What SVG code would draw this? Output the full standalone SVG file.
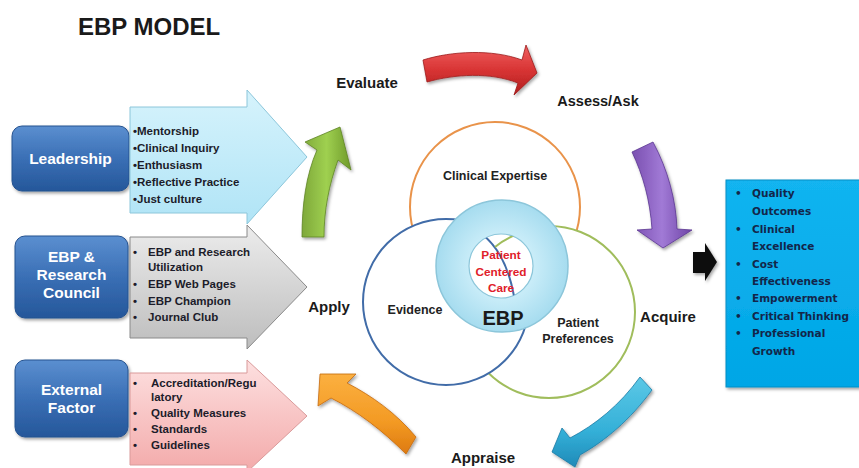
<svg xmlns="http://www.w3.org/2000/svg" width="859" height="468" viewBox="0 0 859 468">
<defs>
<style>
.lbl{font-family:"Liberation Sans",Arial,sans-serif;font-weight:bold;fill:#1a1a1a}
.box{font-family:"Liberation Sans",Arial,sans-serif;font-weight:bold;fill:#ffffff;font-size:15.5px;text-anchor:middle}
.li{font-family:"Liberation Sans",Arial,sans-serif;font-weight:bold;fill:#1c1c2a;font-size:11.5px}
.rt{font-family:"DejaVu Sans",Verdana,sans-serif;font-weight:bold;fill:#13264a;font-size:10.5px}
.ct{font-family:"Liberation Sans",Arial,sans-serif;font-weight:bold;fill:#222;font-size:12.5px;text-anchor:middle}
.red{font-family:"Liberation Sans",Arial,sans-serif;font-weight:bold;fill:#e0202a;font-size:11.8px;text-anchor:middle}
.sh{filter:url(#shadow)}
</style>
<filter id="shadow" x="-20%" y="-20%" width="140%" height="140%">
<feDropShadow dx="1.5" dy="2" stdDeviation="1.5" flood-color="#000" flood-opacity="0.35"/>
</filter>
<linearGradient id="gBox" x1="0" y1="0" x2="0" y2="1">
<stop offset="0" stop-color="#5b8fd0"/><stop offset="0.5" stop-color="#3a6fb5"/><stop offset="1" stop-color="#25579a"/>
</linearGradient>
<linearGradient id="gLb" x1="0" y1="0" x2="0" y2="1">
<stop offset="0" stop-color="#d6f3fc"/><stop offset="1" stop-color="#b0e4f6"/>
</linearGradient>
<linearGradient id="gGr" x1="0" y1="0" x2="0" y2="1">
<stop offset="0" stop-color="#ececec"/><stop offset="1" stop-color="#bdbdbd"/>
</linearGradient>
<linearGradient id="gPk" x1="0" y1="0" x2="0" y2="1">
<stop offset="0" stop-color="#fde0e0"/><stop offset="1" stop-color="#f3aaaa"/>
</linearGradient>
<linearGradient id="gGreen" x1="0" y1="0" x2="1" y2="0">
<stop offset="0" stop-color="#7ea83a"/><stop offset="0.5" stop-color="#9fd050"/><stop offset="1" stop-color="#6f9a2a"/>
</linearGradient>
<linearGradient id="gRed" x1="0" y1="0" x2="0" y2="1">
<stop offset="0" stop-color="#f06060"/><stop offset="0.5" stop-color="#d83434"/><stop offset="1" stop-color="#b01e1e"/>
</linearGradient>
<linearGradient id="gPur" x1="0" y1="0" x2="1" y2="0">
<stop offset="0" stop-color="#7a4fb0"/><stop offset="0.5" stop-color="#a17ad6"/><stop offset="1" stop-color="#6e44a6"/>
</linearGradient>
<linearGradient id="gBlue" x1="0" y1="0" x2="0" y2="1">
<stop offset="0" stop-color="#5cc8e6"/><stop offset="0.6" stop-color="#34b0d8"/><stop offset="1" stop-color="#1f8ab8"/>
</linearGradient>
<linearGradient id="gOr" x1="0" y1="0" x2="0" y2="1">
<stop offset="0" stop-color="#fbb040"/><stop offset="0.6" stop-color="#f39a24"/><stop offset="1" stop-color="#dd7a10"/>
</linearGradient>
<radialGradient id="gEbp" cx="0.5" cy="0.5" r="0.5">
<stop offset="0.5" stop-color="#c8ecf8"/><stop offset="1" stop-color="#a6dcef"/>
</radialGradient>
<linearGradient id="gCyan" x1="0" y1="0" x2="0" y2="1">
<stop offset="0" stop-color="#12b4f0"/><stop offset="1" stop-color="#00a6e6"/>
</linearGradient>
<clipPath id="innerClip"><circle cx="501" cy="266" r="32"/></clipPath>
</defs>

<rect width="859" height="468" fill="#ffffff"/>

<text id="title" x="78" y="35" class="lbl" font-size="24">EBP MODEL</text>

<!-- left side -->
<g id="leadership">
<rect x="12" y="126" width="117" height="65" rx="10" fill="url(#gBox)" stroke="#24528f" stroke-width="1" class="sh"/>
<text x="70.5" y="164" class="box">Leadership</text>
</g>
<g id="leadership-items">
<path d="M130 107 H247 V90 L307 157 L247 224 V213 H130 Z" fill="url(#gLb)" stroke="#8cc6da" stroke-width="1"/>
<text x="133" y="135" class="li">•Mentorship</text>
<text x="133" y="152" class="li">•Clinical Inquiry</text>
<text x="133" y="169" class="li">•Enthusiasm</text>
<text x="133" y="186" class="li">•Reflective Practice</text>
<text x="133" y="203" class="li">•Just culture</text>
</g>

<g id="council">
<rect x="15" y="236" width="113" height="82" rx="10" fill="url(#gBox)" stroke="#24528f" stroke-width="1" class="sh"/>
<text x="71.5" y="262" class="box">EBP &amp;</text>
<text x="71.5" y="280" class="box">Research</text>
<text x="71.5" y="298" class="box">Council</text>
</g>
<g id="council-items">
<path d="M130 237 H247 V225 L307 287 L247 349 V338 H130 Z" fill="url(#gGr)" stroke="#8a8a8a" stroke-width="1"/>
<text x="133" y="256" class="li">•</text><text x="148" y="256" class="li">EBP and Research</text>
<text x="148" y="271" class="li">Utilization</text>
<text x="133" y="288" class="li">•</text><text x="148" y="288" class="li">EBP Web Pages</text>
<text x="133" y="305" class="li">•</text><text x="148" y="305" class="li">EBP Champion</text>
<text x="133" y="321" class="li">•</text><text x="148" y="321" class="li">Journal Club</text>
</g>

<g id="external">
<rect x="15" y="360" width="113" height="77" rx="10" fill="url(#gBox)" stroke="#24528f" stroke-width="1" class="sh"/>
<text x="71.5" y="395" class="box">External</text>
<text x="71.5" y="413" class="box">Factor</text>
</g>
<g id="external-items">
<path d="M130 373 H247 V360 L307 416 L247 472 V465 H130 Z" fill="url(#gPk)" stroke="#d99a9a" stroke-width="1"/>
<text x="133" y="387" class="li">•</text><text x="151" y="387" class="li">Accreditation/Regu</text>
<text x="151" y="401" class="li">latory</text>
<text x="133" y="417" class="li">•</text><text x="151" y="417" class="li">Quality Measures</text>
<text x="133" y="433" class="li">•</text><text x="151" y="433" class="li">Standards</text>
<text x="133" y="449" class="li">•</text><text x="151" y="449" class="li">Guidelines</text>
</g>

<!-- cycle labels -->
<g id="labels">
<text x="367" y="88" class="lbl" font-size="15" text-anchor="middle">Evaluate</text>
<text x="598" y="106" class="lbl" font-size="14.5" text-anchor="middle">Assess/Ask</text>
<text x="329" y="312" class="lbl" font-size="15" text-anchor="middle">Apply</text>
<text x="668" y="322" class="lbl" font-size="15" text-anchor="middle">Acquire</text>
<text x="483" y="463" class="lbl" font-size="15" text-anchor="middle">Appraise</text>
</g>

<!-- cycle arrows -->
<g id="connectors">
<path d="M423 60 C452 51 492 49 522 60 L526 45 L537 73 L514 95 L518 83 C490 72 455 74 427 82 Z" fill="url(#gRed)" stroke="#9c1a1a" stroke-width="0.8" class="sh"/>
<path d="M632 152 L653 142 C668 170 676 200 677 229 L692 230 L663 248 L637 230 L652 229 C650 200 643 175 632 152 Z" fill="url(#gPur)" stroke="#5b3690" stroke-width="0.8" class="sh"/>
<path d="M640 377 L652 390 C630 420 605 441 580 455 L575 467 L552 452 L562 428 L570 438 C595 425 620 405 640 377 Z" fill="url(#gBlue)" stroke="#1a7aa4" stroke-width="0.8" class="sh"/>
<path d="M416 437 L406 454 C382 430 357 411 331 398 L318 406 L320 374 L356 374 L347 383 C372 396 396 413 416 437 Z" fill="url(#gOr)" stroke="#c46a10" stroke-width="0.8" class="sh"/>
<path d="M302 237 C302 205 306 175 317 150 L305 142 L340 127 L351 170 L338 160 C329 185 324 210 324 237 Z" fill="url(#gGreen)" stroke="#5e8424" stroke-width="0.8" class="sh"/>
<path d="M693 252 H705 V243 L717 262 L705 281 V273 H693 Z" fill="#111" class="sh"/>
</g>

<!-- venn -->
<g id="clinical-expertise">
<circle cx="495" cy="207" r="85" fill="#fff" stroke="#e9934a" stroke-width="2"/>
<text x="495" y="180" class="ct">Clinical Expertise</text>
</g>
<g id="patient-preferences">
<circle cx="549" cy="312" r="86" fill="#fff" stroke="#a0bd5c" stroke-width="2"/>
<text x="578" y="327" class="ct">Patient</text>
<text x="578" y="343" class="ct">Preferences</text>
</g>
<g id="evidence">
<circle cx="446" cy="302" r="83" fill="#fff" stroke="#416ca8" stroke-width="2"/>
<text x="415" y="314" class="ct">Evidence</text>
</g>
<g id="ebp">
<circle cx="502" cy="266" r="66" fill="url(#gEbp)" stroke="#8cc6da" stroke-width="1.5"/>
<circle cx="501" cy="266" r="32" fill="#fff" stroke="#8cc6da" stroke-width="1.2"/>
<g clip-path="url(#innerClip)">
<path d="M476 230 Q507 249 515 302" fill="none" stroke="#416ca8" stroke-width="2"/>
<path d="M495 247 Q508 236 530 230" fill="none" stroke="#a0bd5c" stroke-width="2"/>
</g>
<text x="501" y="259" class="red">Patient</text>
<text x="501" y="276" class="red">Centered</text>
<text x="501" y="292" class="red">Care</text>
<text x="503" y="325" class="lbl" font-size="20" text-anchor="middle">EBP</text>
</g>

<!-- outcomes -->
<g id="outcomes">
<rect x="726" y="180" width="140" height="207" fill="url(#gCyan)" stroke="#0a8ec4" stroke-width="1" class="sh"/>
<text x="735" y="197" class="rt">•</text><text x="752" y="197" class="rt">Quality</text>
<text x="752" y="215" class="rt">Outcomes</text>
<text x="735" y="233" class="rt">•</text><text x="752" y="233" class="rt">Clinical</text>
<text x="752" y="250" class="rt">Excellence</text>
<text x="735" y="268" class="rt">•</text><text x="752" y="268" class="rt">Cost</text>
<text x="752" y="285" class="rt">Effectiveness</text>
<text x="735" y="302" class="rt">•</text><text x="752" y="302" class="rt">Empowerment</text>
<text x="735" y="320" class="rt">•</text><text x="752" y="320" class="rt">Critical Thinking</text>
<text x="735" y="337" class="rt">•</text><text x="752" y="337" class="rt">Professional</text>
<text x="752" y="355" class="rt">Growth</text>
</g>
</svg>
